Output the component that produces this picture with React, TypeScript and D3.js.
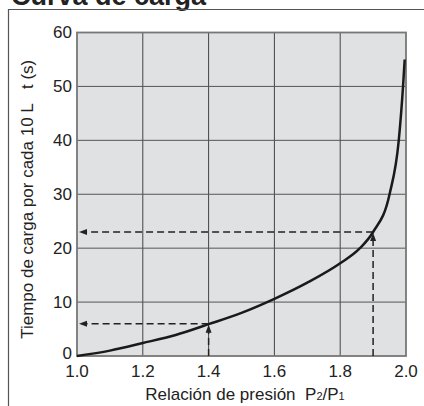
import React from "react";
import * as d3 from "d3";

const ratioX = [1.0, 1.1, 1.2, 1.3, 1.4, 1.5, 1.6, 1.7, 1.8, 1.86, 1.9, 1.95, 1.978, 1.991, 1.996];
const timeY = [0, 1.0, 2.4, 3.9, 5.9, 8.0, 10.6, 13.6, 17.2, 20.0, 23.0, 30.0, 40.0, 50.0, 55.0];
const xTicks = [1.0, 1.2, 1.4, 1.6, 1.8, 2.0];
const yTicks = [0, 10, 20, 30, 40, 50, 60];
const guideX = [1.4, 1.9];
const guideY = [6, 23];

const FONT = "'Liberation Sans', Arial, Helvetica, sans-serif";

export default function App() {
  const W = 424, H = 406;
  const left = 77, right = 406, top = 32.5, bottom = 356;
  const x = d3.scaleLinear().domain([1.0, 2.0]).range([left, right]);
  const y = d3.scaleLinear().domain([0, 60]).range([bottom, top]);
  const data = ratioX.map((v, i) => [v, timeY[i]] as [number, number]);
  const line = d3.line<[number, number]>().x(d => x(d[0])).y(d => y(d[1])).curve(d3.curveMonotoneX);

  const arrowUp = (cx: number, tipY: number) => `M${cx},${tipY} L${cx - 3},${tipY + 8} L${cx + 3},${tipY + 8} Z`;
  const arrowLeft = (tipX: number, cy: number) => `M${tipX},${cy} L${tipX + 8},${cy - 3} L${tipX + 8},${cy + 3} Z`;

  return (
    <svg width={W} height={H} style={{ position: "absolute", left: 0, top: 0, background: "#fff" }} fontFamily={FONT}>
      <text x={11} y={5} fontSize={27} fontWeight="bold" fill="#222">Curva de carga</text>
      <line x1={8} x2={W} y1={9.5} y2={9.5} stroke="#555" strokeWidth={1.2} />
      <line x1={8.5} x2={8.5} y1={9} y2={H} stroke="#555" strokeWidth={1.2} />

      <rect x={left} y={top} width={right - left} height={bottom - top} fill="#e0e1e2" />
      {xTicks.slice(1, -1).map(t => (
        <line key={"gx" + t} x1={x(t)} x2={x(t)} y1={top} y2={bottom} stroke="#444" strokeWidth={1} />
      ))}
      {yTicks.slice(1, -1).map(t => (
        <line key={"gy" + t} x1={left} x2={right} y1={y(t)} y2={y(t)} stroke="#555" strokeWidth={1} />
      ))}
      <rect x={left} y={top} width={right - left} height={bottom - top} fill="none" stroke="#777" strokeWidth={1.8} />

      {guideX.map((gx, i) => {
        const cx = x(gx);
        const cy = y(guideY[i]);
        return (
          <g key={"g" + i}>
            <line x1={cx} x2={cx} y1={bottom} y2={cy + 8} stroke="#222" strokeWidth={1.5} strokeDasharray="7,4" />
            <path d={arrowUp(cx, cy + 1)} fill="#222" />
            <line x1={cx} x2={left + 9} y1={cy} y2={cy} stroke="#222" strokeWidth={1.5} strokeDasharray="7,4" />
            <path d={arrowLeft(left + 2, cy)} fill="#222" />
          </g>
        );
      })}

      <path d={line(data) || ""} fill="none" stroke="#1a1a1a" strokeWidth={2.5} />

      {xTicks.map(t => (
        <text key={"xt" + t} x={x(t)} y={377} fontSize={17} textAnchor="middle" fill="#222">{t.toFixed(1)}</text>
      ))}
      {yTicks.map(t => (
        <text key={"yt" + t} x={72} y={y(t)} dy={t === 0 ? "0.2em" : "0.35em"} fontSize={17} textAnchor="end" fill="#222">{t}</text>
      ))}
      <text x={245} y={400} fontSize={17} textAnchor="middle" fill="#222">
        Relación de presión{"\u00a0\u00a0"}P<tspan fontSize={11}>2</tspan>/P<tspan fontSize={11}>1</tspan>
      </text>
      <text transform={`translate(33,${(top + bottom) / 2 + 5}) rotate(-90)`} fontSize={17} textAnchor="middle" fill="#222">
        Tiempo de carga por cada 10 L{"\u00a0\u00a0\u00a0"}t (s)
      </text>
    </svg>
  );
}
